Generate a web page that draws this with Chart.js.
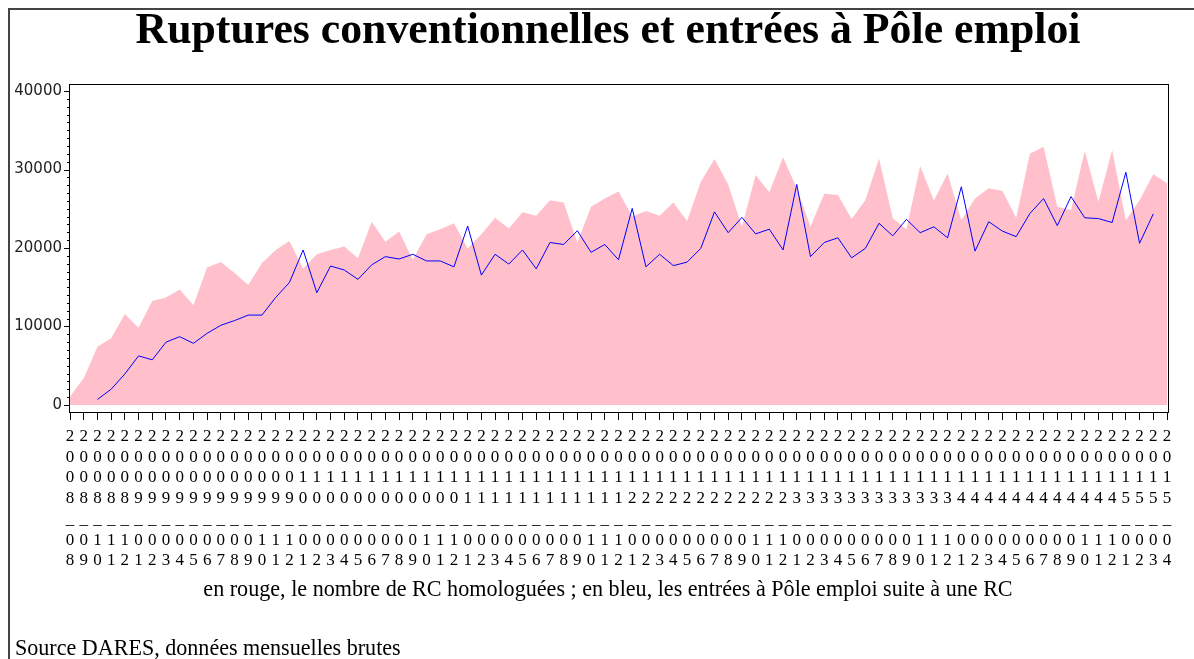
<!DOCTYPE html>
<html lang="fr">
<head>
<meta charset="utf-8">
<title>Ruptures conventionnelles et entrées à Pôle emploi</title>
<script src="https://cdn.jsdelivr.net/npm/chart.js@4.4.1/dist/chart.umd.min.js"></script>
<style>
  html, body { margin: 0; padding: 0; background: #fff; }
  #page { position: relative; width: 1194px; height: 659px; overflow: hidden; }
  #frame { position: absolute; left: 8px; top: 8px; width: 1200px; height: 700px;
           border-left: 2px solid #444; border-top: 2px solid #444; }
  canvas { position: absolute; left: 0; top: 0; }
  .txt { position: absolute; left: 0; width: 1216px; text-align: center; white-space: nowrap;
         font-family: "Liberation Serif", serif; color: #000; line-height: 1; }
  #title { font-weight: bold; font-size: 38px; }
  #legend { font-size: 18px; }
  #source { left: 15px; width: auto; text-align: left; font-size: 18px; }
</style>
</head>
<body>
<div id="page">
  <div id="frame"></div>
  <canvas id="chart" width="1194" height="659"></canvas>
  <div class="txt" id="title">Ruptures conventionnelles et entrées à Pôle emploi</div>
  <div class="txt" id="legend">en rouge, le nombre de RC homologuées ; en bleu, les entrées à Pôle emploi suite à une RC</div>
  <div class="txt" id="source">Source DARES, données mensuelles brutes</div>
</div>
<script>
// months, year_month
const months = [
    '2008_08', '2008_09', '2008_10', '2008_11', '2008_12',
    '2009_01', '2009_02', '2009_03', '2009_04', '2009_05', '2009_06', '2009_07', '2009_08', '2009_09', '2009_10', '2009_11', '2009_12',
    '2010_01', '2010_02', '2010_03', '2010_04', '2010_05', '2010_06', '2010_07', '2010_08', '2010_09', '2010_10', '2010_11', '2010_12',
    '2011_01', '2011_02', '2011_03', '2011_04', '2011_05', '2011_06', '2011_07', '2011_08', '2011_09', '2011_10', '2011_11', '2011_12',
    '2012_01', '2012_02', '2012_03', '2012_04', '2012_05', '2012_06', '2012_07', '2012_08', '2012_09', '2012_10', '2012_11', '2012_12',
    '2013_01', '2013_02', '2013_03', '2013_04', '2013_05', '2013_06', '2013_07', '2013_08', '2013_09', '2013_10', '2013_11', '2013_12',
    '2014_01', '2014_02', '2014_03', '2014_04', '2014_05', '2014_06', '2014_07', '2014_08', '2014_09', '2014_10', '2014_11', '2014_12',
    '2015_01', '2015_02', '2015_03', '2015_04'
];

// RC homologuees (pink area)
const rcHomologuees = [
    1060, 3400, 7400, 8500, 11600,
    9850, 13250, 13700, 14700, 12700, 17500, 18200, 16800, 15300, 18100, 19750, 20900,
    17400, 19200, 19750, 20200, 18700, 23350, 20800, 22100, 18500, 21750, 22400, 23150,
    19950, 21750, 23850, 22500, 24550, 24100, 26100, 25800, 20700, 25250, 26300, 27200,
    24000, 24700, 24100, 25800, 23450, 28450, 31350, 28100, 22700, 29300, 27100, 31550,
    27600, 22700, 26900, 26750, 23700, 26100, 31400, 23800, 22400, 30450, 26050, 29500,
    23550, 26300, 27600, 27250, 23850, 32000, 32900, 25250, 24850, 32350, 25900, 32500,
    23550, 26100, 29400, 28250
];

// entrees a Pole emploi suite a une RC (blue line)
const entreesPE = [
    null, null, 700, 2000, 3950,
    6250, 5750, 8000, 8700, 7850, 9130, 10150, 10750, 11450, 11450, 13700, 15600,
    19750, 14300, 17700, 17200, 16000, 17850, 18900, 18600, 19200, 18350, 18350, 17600,
    22800, 16550, 19200, 17950, 19750, 17350, 20700, 20450, 22200, 19450, 20450, 18500,
    25050, 17600, 19200, 17750, 18200, 19950, 24600, 21950, 23900, 21800, 22400, 19750,
    28100, 18900, 20700, 21300, 18750, 19950, 23150, 21550, 23650, 21950, 22700, 21300,
    27800, 19600, 23350, 22150, 21450, 24400, 26300, 22850, 26550, 23850, 23750, 23250,
    29650, 20600, 24350, null
];

const yTickLabels = [0, 10000, 20000, 30000, 40000];

// frame around the plot + small ticks on the y axis
const framePlugin = {
    id: 'frame',
    afterDraw(chart) {
        const ctx = chart.ctx;
        const a = chart.chartArea;
        const y = chart.scales.y;
        ctx.save();
        ctx.strokeStyle = '#000';
        ctx.lineWidth = 1;
        ctx.strokeRect(Math.round(a.left) - 0.5, Math.round(a.top) + 0.5,
                       Math.round(a.right - a.left) + 2, Math.round(a.bottom - a.top));
        for (let v = 0; v <= 40000; v += 1000) {
            const py = Math.round(y.getPixelForValue(v)) + 0.5;
            const len = v % 10000 === 0 ? 6 : 3;
            ctx.beginPath();
            ctx.moveTo(a.left - len, py);
            ctx.lineTo(a.left, py);
            ctx.stroke();
        }
        ctx.restore();
    }
};

new Chart(document.getElementById('chart'), {
    type: 'line',
    data: {
        labels: months,
        datasets: [
            {
                label: 'RC homologuées',
                data: rcHomologuees,
                fill: 'origin',
                backgroundColor: '#ffc0cb',
                borderWidth: 0,
                borderColor: 'rgba(0,0,0,0)',
                pointRadius: 0,
                tension: 0,
                order: 2
            },
            {
                label: 'Entrées à Pôle emploi',
                data: entreesPE,
                fill: false,
                borderColor: '#0000ff',
                borderWidth: 1,
                pointRadius: 0,
                tension: 0,
                order: 1
            }
        ]
    },
    options: {
        responsive: false,
        animation: false,
        devicePixelRatio: 1,
        layout: { padding: { top: 84, right: 27, bottom: 0, left: 0 } },
        plugins: {
            legend: { display: false },
            tooltip: { enabled: false },
            title: { display: false }
        },
        scales: {
            x: {
                offset: false,
                border: { display: false },
                grid: { display: true, drawOnChartArea: false, tickLength: 8, tickColor: '#000', color: '#000' },
                ticks: {
                    autoSkip: false,
                    maxRotation: 0,
                    minRotation: 0,
                    padding: 6,
                    color: '#000',
                    font: { family: '"Liberation Serif", serif', size: 17, lineHeight: 1.22 },
                    callback: function(value, index) {
                        return months[index].split('');
                    }
                },
                afterFit: function(scale) { scale.height = 247; }
            },
            y: {
                min: -900,
                max: 40900,
                border: { display: false },
                grid: { display: false, drawTicks: false },
                afterBuildTicks: function(scale) {
                    scale.ticks = yTickLabels.map(v => ({ value: v }));
                },
                ticks: {
                    padding: 8,
                    color: '#222',
                    font: { family: '"DejaVu Sans", sans-serif', size: 15 },
                    callback: function(value) { return String(value); }
                },
                afterFit: function(scale) { scale.width = 70; }
            }
        }
    },
    plugins: [framePlugin]
});

// size the html texts to the widths seen in the picture
function fitText(id, targetWidth, baseline) {
    const el = document.getElementById(id);
    const cs = getComputedStyle(el);
    const c = document.createElement('canvas').getContext('2d');
    c.font = cs.fontWeight + ' ' + cs.fontSize + ' ' + cs.fontFamily;
    const w = c.measureText(el.textContent).width;
    const size = parseFloat(cs.fontSize) * targetWidth / w;
    el.style.fontSize = size + 'px';
    el.style.top = (baseline - 0.8375 * size) + 'px';
}
fitText('title', 945, 44);
fitText('legend', 810, 597);
fitText('source', 386, 656);
</script>
</body>
</html>
